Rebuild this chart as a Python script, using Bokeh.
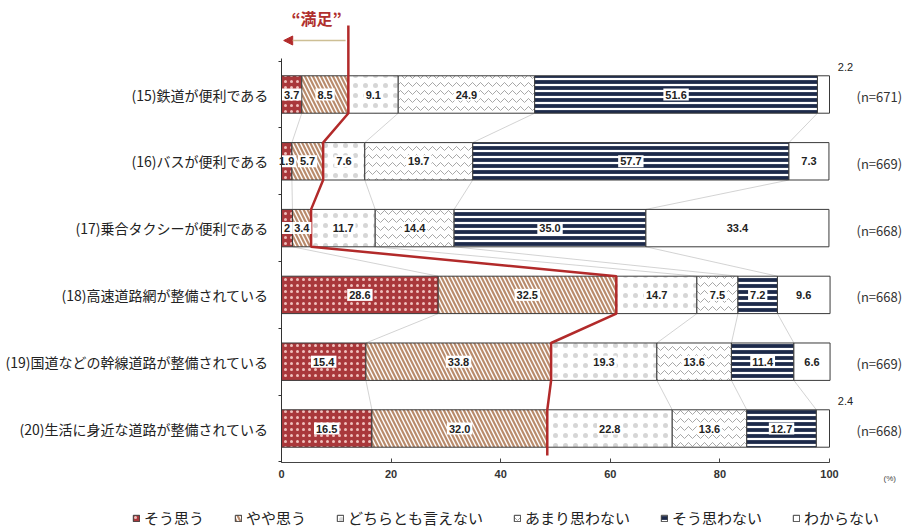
from bokeh.plotting import figure
from bokeh.models import (ColumnDataSource, Range1d, FixedTicker, Label,
                          Legend, LegendItem, Arrow, NormalHead)
from bokeh.core.properties import value
from bokeh.embed import file_html
from bokeh.resources import INLINE

# ---------------- data ----------------
items = ["(15)鉄道が便利である", "(16)バスが便利である", "(17)乗合タクシーが便利である",
         "(18)高速道路網が整備されている", "(19)国道などの幹線道路が整備されている",
         "(20)生活に身近な道路が整備されている"]
n_labels = ["(n=671)", "(n=669)", "(n=668)", "(n=668)", "(n=669)", "(n=668)"]
answers = ["そう思う", "やや思う", "どちらとも言えない", "あまり思わない", "そう思わない", "わからない"]
sou_omou       = [3.7, 1.9, 2.0, 28.6, 15.4, 16.5]
yaya_omou      = [8.5, 5.7, 3.4, 32.5, 33.8, 32.0]
dochira        = [9.1, 7.6, 11.7, 14.7, 19.3, 22.8]
amari          = [24.9, 19.7, 14.4, 7.5, 13.6, 13.6]
sou_omowanai   = [51.6, 57.7, 35.0, 7.2, 11.4, 12.7]
wakaranai      = [2.2, 7.3, 33.4, 9.6, 6.6, 2.4]
x_ticks = [0, 20, 40, 60, 80, 100]

series = [sou_omou, yaya_omou, dochira, amari, sou_omowanai, wakaranai]

# ---------------- styles ----------------
fills = ["#a9383b", "white", "white", "white", "white", "white"]
hatches = ["dot", "left_diagonal_line", "dot", "horizontal_wave", "horizontal_line", " "]
hatch_colors = ["#f0c0bc", "#b98b6c", "#d6d6d6", "#a8a8a8", "#1d2a4a", "white"]
hatch_weights = [1.4, 2.2, 0.9, 1.0, 3.8, 1.0]
hatch_scales = [6, 8, 10, 8, 6, 6]
JP = "Noto Sans CJK JP"
NUM = "Liberation Sans"

W, H = 915, 532
X0_PX, X_PX_PER_UNIT = 281, 5.48      # pixel of 0 %, pixels per %
ROW0_PX, ROW_PX = 428, 66.8           # pixel of bottom row centre, pixels per row
AXIS_PX = 462                          # pixel of the x axis line
TOP_AXIS_PX = 58

def yval(px):
    return (ROW0_PX - px) / ROW_PX

nrows = len(items)
ypos = [nrows - 1 - i for i in range(nrows)]  # top row first
bar_h = 0.56

# cumulative
lefts, rights = [], []
cum = [0.0] * nrows
for s in series:
    lefts.append(list(cum))
    cum = [c + v for c, v in zip(cum, s)]
    rights.append(list(cum))

x_range = Range1d(-X0_PX / X_PX_PER_UNIT, (W - X0_PX) / X_PX_PER_UNIT)
y_range = Range1d(yval(H), yval(0))

p = figure(width=W, height=H, x_range=x_range, y_range=y_range,
           output_backend="svg", toolbar_location=None,
           min_border_left=0, min_border_right=0, min_border_top=0, min_border_bottom=0)
p.outline_line_color = None
p.xgrid.visible = False
p.ygrid.visible = False
p.background_fill_color = "white"
p.border_fill_color = "white"

# connecting thin grey lines between bars
cx0, cy0, cx1, cy1 = [], [], [], []
for k in range(len(series) - 1):
    if k == 1:
        continue
    for i in range(nrows - 1):
        cx0.append(rights[k][i]); cy0.append(ypos[i] - bar_h / 2)
        cx1.append(rights[k][i + 1]); cy1.append(ypos[i + 1] + bar_h / 2)
p.segment(x0=cx0, y0=cy0, x1=cx1, y1=cy1, line_color="#c8c8c8", line_width=0.8)

# bars
legend_items = []
for k, s in enumerate(series):
    src = ColumnDataSource(dict(y=ypos, left=lefts[k], right=rights[k], v=s))
    r = p.hbar(y="y", left="left", right="right", height=bar_h, source=src,
               fill_color=fills[k], line_color="#3a3a3a", line_width=1,
               hatch_pattern=hatches[k], hatch_color=hatch_colors[k],
               hatch_weight=hatch_weights[k], hatch_scale=hatch_scales[k])
    legend_items.append(LegendItem(label=answers[k], renderers=[r]))

# "満足" line (boundary after the second category)
sat = rights[1]
lx, ly = [sat[0]], [yval(25)]
for i in range(nrows):
    lx += [sat[i], sat[i]]
    ly += [ypos[i] + bar_h / 2, ypos[i] - bar_h / 2]
lx.append(sat[-1]); ly.append(yval(455))
p.line(lx, ly, line_color="#b22a2a", line_width=2.5)

# value labels
in_x, in_y, in_t = [], [], []
out_x, out_y, out_t = [], [], []
for k, s in enumerate(series):
    for i, v in enumerate(s):
        t = f"{v:g}" if v < 3 else f"{v:.1f}"
        if k == len(series) - 1 and v < 3:
            out_x.append(100); out_y.append(ypos[i] + bar_h / 2); out_t.append(t)
        else:
            in_x.append((lefts[k][i] + rights[k][i]) / 2); in_y.append(ypos[i]); in_t.append(t)

p.text(x=in_x, y=in_y, text=in_t, text_align="center", text_baseline="middle",
       text_font=value(NUM), text_font_size="11px", text_font_style="bold",
       text_color="#222222", background_fill_color="white", padding=2)
p.text(x=out_x, y=out_y, text=out_t, x_offset=16, y_offset=-5, text_align="center",
       text_baseline="bottom", text_font=value(NUM), text_font_size="11px", text_color="#222222")
p.text(x=[100] * nrows, y=ypos, text=n_labels, x_offset=27, y_offset=2, text_align="left",
       text_baseline="middle", text_font=value(JP), text_font_size="13px", text_color="#333333")

# satisfaction annotation
p.add_layout(Arrow(x_start=sat[0] - 0.5, y_start=yval(40), x_end=0.4, y_end=yval(40),
                   line_color="#cdbf95", line_width=1.5,
                   end=NormalHead(size=9, fill_color="#b22a2a", line_color="#b22a2a")))
p.add_layout(Label(x=sat[0] / 2 + 0.3, y=yval(17), text="“満足”",
                   text_align="center", text_baseline="middle", text_font=JP,
                   text_font_size="16px", text_font_style="bold", text_color="#b0302e"))

# axes (fixed at the 0 % line and at the foot of the bars)
xa = p.xaxis[0]
xa.fixed_location = yval(AXIS_PX)
xa.ticker = FixedTicker(ticks=x_ticks)
xa.bounds = (x_ticks[0], x_ticks[-1])
xa.major_tick_in = 4
xa.major_tick_out = 0
xa.minor_tick_line_color = None
xa.axis_line_color = "#444444"
xa.major_tick_line_color = "#444444"
xa.major_label_standoff = 7
xa.major_label_text_font = NUM
xa.major_label_text_font_size = "11px"
xa.major_label_text_font_style = "bold"
xa.major_label_text_color = "#333333"

ya = p.yaxis[0]
ya.fixed_location = 0
ya.ticker = FixedTicker(ticks=ypos, minor_ticks=[y + 0.5 for y in ypos] + [-0.5])
ya.major_label_overrides = {y: items[i] for i, y in enumerate(ypos)}
ya.bounds = (yval(AXIS_PX), yval(TOP_AXIS_PX))
ya.axis_line_color = "#333333"
ya.major_tick_line_color = None
ya.major_tick_out = 0
ya.major_tick_in = 0
ya.minor_tick_in = 0
ya.minor_tick_out = 3
ya.minor_tick_line_color = "#333333"
ya.major_label_standoff = 10
ya.major_label_text_font = JP
ya.major_label_text_font_size = "14px"
ya.major_label_text_color = "#222222"

p.add_layout(Label(x=100, y=yval(AXIS_PX), x_offset=54, y_offset=-16, text="(%)", text_align="left",
                   text_baseline="middle", text_font=NUM, text_font_size="8px", text_color="#444444"))

legend = Legend(items=legend_items, orientation="horizontal", location=(132, 4),
                label_text_font=JP, label_text_font_size="15px", label_text_color="#222222",
                glyph_width=8, glyph_height=8, spacing=30, label_standoff=4,
                padding=2, margin=0, border_line_color=None, background_fill_alpha=0)
p.add_layout(legend)

open("out.html", "w").write(file_html(p, INLINE))
